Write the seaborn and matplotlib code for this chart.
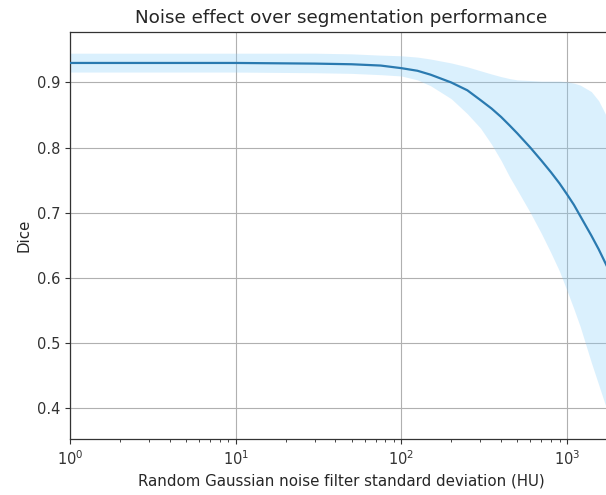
import matplotlib
matplotlib.use("Agg")
import matplotlib.pyplot as plt
import seaborn as sns
import pandas as pd

# Noise standard deviation (HU) and Dice statistics
noise_std = [1, 10, 30, 50, 75, 100, 125, 150, 200, 250, 300, 350, 400, 450, 500,
             600, 700, 800, 900, 1000, 1100, 1200, 1400, 1550, 1700, 1900]
dice_mean = [0.930, 0.930, 0.929, 0.928, 0.926, 0.922, 0.918, 0.912, 0.900, 0.888,
             0.873, 0.860, 0.847, 0.834, 0.822, 0.800, 0.780, 0.762, 0.745, 0.728,
             0.712, 0.695, 0.665, 0.644, 0.623, 0.598]
dice_upper = [0.945, 0.945, 0.945, 0.944, 0.942, 0.941, 0.939, 0.936, 0.930, 0.924,
              0.918, 0.913, 0.909, 0.906, 0.904, 0.903, 0.902, 0.902, 0.902, 0.901,
              0.899, 0.896, 0.886, 0.872, 0.852, 0.820]
dice_lower = [0.916, 0.916, 0.915, 0.914, 0.912, 0.910, 0.904, 0.895, 0.875, 0.852,
              0.830, 0.805, 0.780, 0.755, 0.735, 0.700, 0.668, 0.638, 0.610, 0.580,
              0.552, 0.525, 0.470, 0.436, 0.405, 0.375]

df = pd.DataFrame({"std": noise_std, "dice": dice_mean,
                   "lo": dice_lower, "hi": dice_upper})

sns.set_style("ticks")
plt.rcParams["font.family"] = ["DejaVu Sans"]

fig = plt.figure(figsize=(6.06, 4.95), dpi=100)
ax = fig.add_axes([70 / 606, 1 - 439.3 / 495, 542 / 606, (439.3 - 31.7) / 495])

ax.fill_between(df["std"], df["lo"], df["hi"], color="#87cefa", alpha=0.3,
                linewidth=0, zorder=1)
sns.lineplot(data=df, x="std", y="dice", ax=ax, color="#2a7ab0", linewidth=1.6,
             zorder=3)

ax.set_xscale("log")
ax.set_xlim(1, 10 ** (542 / 165.7))
ax.set_ylim(0.352, 0.978)
ax.set_yticks([0.4, 0.5, 0.6, 0.7, 0.8, 0.9])
ax.grid(True, which="major", color="#b0b0b0", linewidth=0.8)
ax.tick_params(labelsize=10.5, colors="#333333")
for s in ax.spines.values():
    s.set_color("#333333")
    s.set_linewidth(0.9)

ax.set_title("Noise effect over segmentation performance", fontsize=13.2)
ax.set_xlabel("Random Gaussian noise filter standard deviation (HU)", fontsize=10.8)
ax.set_ylabel("Dice", fontsize=10.8)

fig.savefig("out.png", dpi=100)
